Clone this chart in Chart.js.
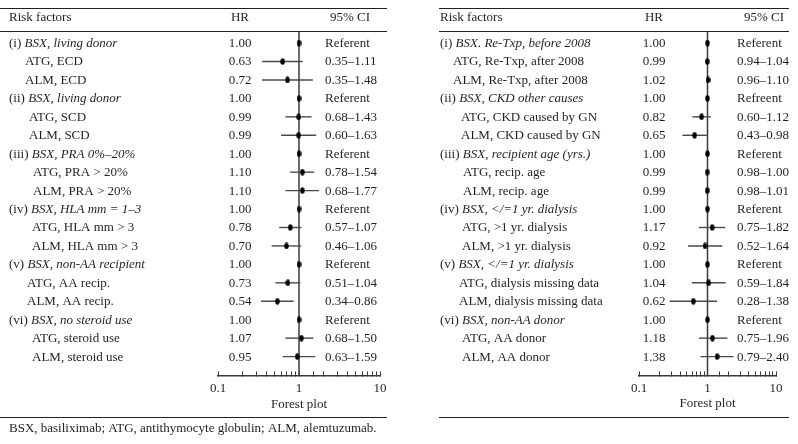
<!DOCTYPE html>
<html>
<head>
<meta charset="utf-8">
<script src="https://cdn.jsdelivr.net/npm/chart.js@4.4.1/dist/chart.umd.min.js"></script>
<style>
  body { margin: 0; background: #fff; }
  #wrap { position: relative; width: 798px; height: 444px; }
  canvas { position: absolute; top: 0; }
</style>
</head>
<body>
<div id="wrap">
  <canvas id="leftPlot" width="400" height="444" style="left:0"></canvas>
  <canvas id="rightPlot" width="398" height="444" style="left:400px"></canvas>
</div>
<script>
// ---- data: left panel ----
const leftGroupNums = ['(i)', '(ii)', '(iii)', '(iv)', '(v)', '(vi)'];
const leftGroupNames = ['BSX, living donor', 'BSX, living donor', 'BSX, PRA 0%–20%',
  'BSX, HLA mm = 1–3', 'BSX, non-AA recipient', 'BSX, no steroid use'];
const leftRefText = ['Referent', 'Referent', 'Referent', 'Referent', 'Referent', 'Referent'];
const leftSubLabels = ['ATG, ECD', 'ALM, ECD', 'ATG, SCD', 'ALM, SCD',
  'ATG, PRA > 20%', 'ALM, PRA > 20%', 'ATG, HLA mm > 3', 'ALM, HLA mm > 3',
  'ATG, AA recip.', 'ALM, AA recip.', 'ATG, steroid use', 'ALM, steroid use'];
const leftHR = [0.63, 0.72, 0.99, 0.99, 1.10, 1.10, 0.78, 0.70, 0.73, 0.54, 1.07, 0.95];
const leftLow = [0.35, 0.35, 0.68, 0.60, 0.78, 0.68, 0.57, 0.46, 0.51, 0.34, 0.68, 0.63];
const leftHigh = [1.11, 1.48, 1.43, 1.63, 1.54, 1.77, 1.07, 1.06, 1.04, 0.86, 1.50, 1.59];

// ---- data: right panel ----
const rightGroupNums = ['(i)', '(ii)', '(iii)', '(iv)', '(v)', '(vi)'];
const rightGroupNames = ['BSX. Re-Txp, before 2008', 'BSX, CKD other causes', 'BSX, recipient age (yrs.)',
  'BSX, </=1 yr. dialysis', 'BSX, </=1 yr. dialysis', 'BSX, non-AA donor'];
const rightRefText = ['Referent', 'Refreent', 'Referent', 'Referent', 'Referent', 'Referent'];
const rightSubLabels = ['ATG, Re-Txp, after 2008', 'ALM, Re-Txp, after 2008',
  'ATG, CKD caused by GN', 'ALM, CKD caused by GN', 'ATG, recip. age', 'ALM, recip. age',
  'ATG, >1 yr. dialysis', 'ALM, >1 yr. dialysis', 'ATG, dialysis missing data',
  'ALM, dialysis missing data', 'ATG, AA donor', 'ALM, AA donor'];
const rightHR = [0.99, 1.02, 0.82, 0.65, 0.99, 0.99, 1.17, 0.92, 1.04, 0.62, 1.18, 1.38];
const rightLow = [0.94, 0.96, 0.60, 0.43, 0.98, 0.98, 0.75, 0.52, 0.59, 0.28, 0.75, 0.79];
const rightHigh = [1.04, 1.10, 1.12, 0.98, 1.00, 1.01, 1.82, 1.64, 1.84, 1.38, 1.96, 2.40];

const refHR = 1.00;
const xTickLabels = [0.1, 1, 10];
const axisTitle = 'Forest plot';
const footnote = 'BSX, basiliximab; ATG, antithymocyte globulin; ALM, alemtuzumab.';

// ---- styling ----
const ink = '#231f20';
const lineGray = '#4a4a4a';
const roman = '13px "Liberation Serif"';
const italic = 'italic 13px "Liberation Serif"';
const yMin = -0.655, yMax = 18.02;

function buildRows(nums, names, refText, subs, hr, lo, hi) {
  const rows = [];
  nums.forEach((n, g) => {
    rows.push({group: true, num: n, name: names[g], hr: refHR, ci: refText[g], g});
    for (let k = 0; k < 2; k++) {
      const j = g * 2 + k;
      rows.push({group: false, label: subs[j], hr: hr[j], lo: lo[j], hi: hi[j],
        ci: lo[j].toFixed(2) + '–' + hi[j].toFixed(2), g});
    }
  });
  return rows;
}

// elliptical dot used as point style
const dot = document.createElement('canvas');
dot.width = 5; dot.height = 7;
(function () {
  const c = dot.getContext('2d');
  c.fillStyle = '#000';
  c.beginPath();
  c.ellipse(2.5, 3.5, 2.2, 3.2, 0, 0, Math.PI * 2);
  c.fill();
})();

function tablePlugin(rows, geo) {
  return {
    id: 'table',
    afterDraw(chart) {
      const ctx = chart.ctx;
      const ys = chart.scales.y;
      const xs = chart.scales.x;
      ctx.save();
      ctx.strokeStyle = ink;
      ctx.fillStyle = ink;
      ctx.lineWidth = 1;
      geo.rules.forEach(ry => {
        ctx.beginPath();
        ctx.moveTo(geo.ruleX0, ry + 0.5);
        ctx.lineTo(geo.ruleX1, ry + 0.5);
        ctx.stroke();
      });
      ctx.textBaseline = 'middle';
      ctx.font = roman;
      ctx.textAlign = 'left';
      ctx.fillText('Risk factors', geo.labelX, geo.headY);
      ctx.textAlign = 'center';
      ctx.fillText('HR', geo.hrX, geo.headY);
      ctx.textAlign = 'right';
      ctx.fillText('95% CI', geo.ciHeadRight, geo.headY);

      rows.forEach((r, i) => {
        const py = ys.getPixelForValue(i) + 0.5;
        ctx.textAlign = 'left';
        if (r.group) {
          ctx.font = roman;
          const pre = r.num + ' ';
          ctx.fillText(pre, geo.labelX, py);
          const w = ctx.measureText(pre).width;
          ctx.font = italic;
          ctx.fillText(r.name, geo.labelX + w, py);
        } else {
          ctx.font = roman;
          ctx.fillText(r.label, geo.subX[r.g], py);
        }
        ctx.font = roman;
        ctx.textAlign = 'center';
        ctx.fillText(r.hr.toFixed(2), geo.hrX, py);
        ctx.textAlign = 'left';
        ctx.fillText(r.ci, geo.ciX, py);
      });

      // axis title centred on the HR = 1 line
      ctx.font = roman;
      ctx.textAlign = 'center';
      ctx.fillText(axisTitle, xs.getPixelForValue(refHR), geo.titleY);

      if (geo.footnote) {
        ctx.textAlign = 'left';
        ctx.fillText(footnote, geo.labelX, geo.footY);
      }
      ctx.restore();
    }
  };
}

function makePanel(id, rows, geo) {
  const whiskers = rows.filter(r => !r.group).map(r => ({
    type: 'scatter',
    data: [{x: r.lo, y: rows.indexOf(r)}, {x: r.hi, y: rows.indexOf(r)}],
    showLine: true,
    borderColor: lineGray,
    borderWidth: 1.4,
    pointRadius: 0,
    order: 1,
    clip: false
  }));
  return new Chart(document.getElementById(id).getContext('2d'), {
    type: 'scatter',
    data: {
      datasets: [
        {
          data: rows.map((r, i) => ({x: r.hr, y: i})),
          pointStyle: dot,
          pointRadius: 3,
          order: 0,
          clip: false
        },
        ...whiskers,
        {
          data: [{x: refHR, y: yMin}, {x: refHR, y: yMax}],
          showLine: true,
          borderColor: '#3a3a3a',
          borderWidth: 1.5,
          pointRadius: 0,
          order: 2
        }
      ]
    },
    options: {
      responsive: false,
      animation: false,
      events: [],
      layout: {padding: geo.padding},
      plugins: {legend: {display: false}, tooltip: {enabled: false}},
      scales: {
        x: {
          type: 'logarithmic',
          min: 0.1,
          max: 10,
          position: 'bottom',
          border: {display: true, color: '#3a3a3a', width: 1.5},
          grid: {display: true, drawOnChartArea: false, drawTicks: true, tickLength: -4, color: '#3a3a3a', lineWidth: 1},
          ticks: {
            autoSkip: false,
            maxRotation: 0,
            padding: 9,
            color: ink,
            font: {family: 'Liberation Serif', size: 13},
            callback: v => xTickLabels.some(t => Math.abs(t - v) < 1e-9) ? String(v) : ''
          },
          title: {display: false}
        },
        y: {type: 'linear', reverse: true, min: yMin, max: yMax, display: false}
      }
    },
    plugins: [tablePlugin(rows, geo)]
  });
}

const leftRows = buildRows(leftGroupNums, leftGroupNames, leftRefText, leftSubLabels, leftHR, leftLow, leftHigh);
const rightRows = buildRows(rightGroupNums, rightGroupNames, rightRefText, rightSubLabels, rightHR, rightLow, rightHigh);

makePanel('leftPlot', leftRows, {
  padding: {left: 218, right: 20, top: 31, bottom: 39},
  rules: [8, 31, 417],
  ruleX0: 0, ruleX1: 387,
  labelX: 9, subX: [25, 29, 33, 32, 27, 32],
  hrX: 240, ciX: 325, ciHeadRight: 370, headY: 18,
  titleY: 405,
  footnote: true, footY: 429
});

makePanel('rightPlot', rightRows, {
  padding: {left: 239, right: 22, top: 31, bottom: 39},
  rules: [8, 31, 417],
  ruleX0: 39, ruleX1: 389,
  labelX: 40, subX: [53, 61, 63, 62, 59, 62],
  hrX: 254, ciX: 337, ciHeadRight: 384, headY: 18,
  titleY: 404,
  footnote: false
});
</script>
</body>
</html>
